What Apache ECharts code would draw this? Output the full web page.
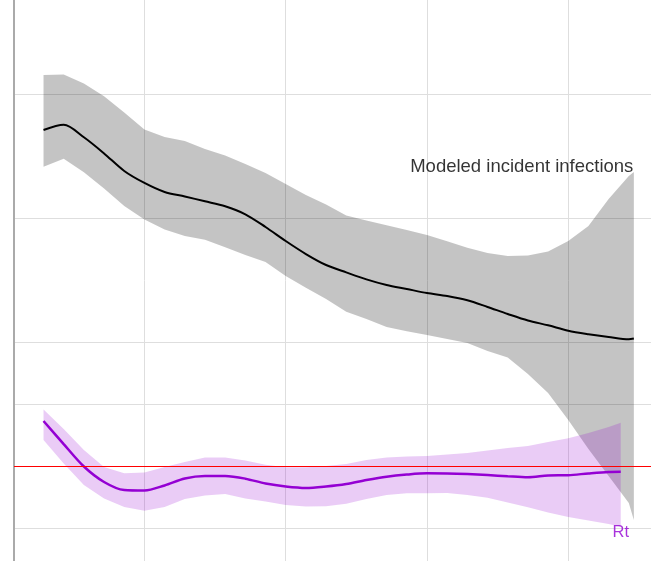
<!DOCTYPE html>
<html><head><meta charset="utf-8">
<script src="https://cdn.jsdelivr.net/npm/echarts@6/dist/echarts.min.js"></script>
<style>html,body{margin:0;padding:0;background:#fff;overflow:hidden}#c{width:651px;height:561px}</style>
</head><body><div id="c"></div>
<script>
// ---- data ----
const infDays   = [4,6,8,10,12,14,16,18,20,22,24,26,28,30,32,34,36,38,40,42,44,46,48,50,52,54,56,58,60,62,62.5];
const infMedian = [7419,7503,7302,7042,6758,6565,6419,6347,6269,6189,6060,5855,5629,5419,5242,5123,5010,4919,4855,4790,4742,4673,4565,4452,4347,4269,4182,4126,4081,4044,4057];
const infUpper  = [8306,8315,8169,7963,7702,7427,7306,7242,7113,7008,6871,6726,6548,6371,6218,6040,5960,5882,5806,5726,5624,5521,5435,5387,5394,5460,5629,5871,6306,6677,6742];
const infLower  = [6828,6955,6737,6474,6194,5976,5815,5710,5650,5527,5403,5290,5065,4876,4694,4489,4371,4242,4173,4113,4048,3984,3855,3750,3484,3177,2742,2274,1839,1403,1129];

const rtDays   = [4,6,8,10,12,14,16,18,20,22,24,26,28,30,32,34,36,38,40,42,44,46,48,50,52,54,56,58,60,61.2];
const rtMedian = [1.363,1.177,0.996,0.871,0.806,0.802,0.843,0.899,0.919,0.919,0.898,0.859,0.835,0.823,0.835,0.855,0.887,0.914,0.931,0.941,0.940,0.935,0.927,0.917,0.909,0.923,0.926,0.940,0.952,0.954];
const rtUpper  = [1.456,1.298,1.129,0.992,0.941,0.948,0.992,1.032,1.069,1.069,1.044,1.010,0.990,0.990,1.000,1.016,1.048,1.069,1.077,1.081,1.093,1.105,1.125,1.145,1.161,1.194,1.223,1.266,1.315,1.349];
const rtLower  = [1.210,1.020,0.847,0.738,0.669,0.640,0.669,0.734,0.762,0.774,0.738,0.714,0.685,0.673,0.676,0.695,0.734,0.766,0.780,0.780,0.782,0.766,0.744,0.706,0.667,0.625,0.589,0.560,0.532,0.510];

const RT_THRESHOLD = 1;
const INF_LABEL = 'Modeled incident infections';
const RT_LABEL = 'Rt';

// ---- axis extents ----
const X_MAX = 65.19, X_STEP = 14;
const INF_MIN = 0, INF_MAX = 9677.4, INF_STEP = 2000;
const RT_MIN = 0, RT_MAX = 4.8387, RT_STEP = 0.5;
const dayRange = infDays[infDays.length - 1] - infDays[0];
const panelStart = infDays[0] - 0.05 * dayRange;   // ggplot-style 5% expansion

const FONT = '"Liberation Sans", Arial, Helvetica, sans-serif';
const GRID_C = '#dedede', T = 'rgba(0,0,0,0)';

function pairs(days, vals) { return days.map((d, i) => [d, vals[i]]); }

function ribbon(days, lo, hi, yIdx, color) {
  return {
    type: 'custom', xAxisIndex: 0, yAxisIndex: yIdx, silent: true, clip: true, z: 2,
    data: days.map((d, i) => [d, lo[i], hi[i]]),
    encode: { x: 0, y: [1, 2] },
    renderItem: function (params, api) {
      if (params.dataIndex !== 0) return null;
      const pts = [];
      for (let i = 0; i < days.length; i++) pts.push(api.coord([days[i], hi[i]]));
      for (let i = days.length - 1; i >= 0; i--) pts.push(api.coord([days[i], lo[i]]));
      return { type: 'polygon', shape: { points: pts }, style: { fill: color } };
    }
  };
}

const chart = echarts.init(document.getElementById('c'), null, { renderer: 'canvas' });
chart.setOption({
  animation: false,
  backgroundColor: '#ffffff',
  grid: [
    // data panel (starts at the left axis line)
    { left: 14, right: -10, top: -10, bottom: -29, containLabel: false, outerBoundsMode: 'none' },
    // same x scale, used only for the vertical grid lines
    { left: 3, right: -10, top: -10, bottom: -29, containLabel: false, outerBoundsMode: 'none' }
  ],
  xAxis: [
    {
      gridIndex: 0, type: 'value', min: panelStart, max: X_MAX,
      axisLine: { show: false }, axisTick: { show: false }, axisLabel: { show: false },
      splitLine: { show: false }
    },
    {
      gridIndex: 1, type: 'value', min: 0, max: X_MAX, interval: X_STEP,
      axisLine: { show: false }, axisTick: { show: false }, axisLabel: { show: false },
      splitLine: { show: true, lineStyle: { color: [T, GRID_C, GRID_C, GRID_C, GRID_C, T], width: 1 } }
    }
  ],
  yAxis: [
    {
      gridIndex: 0, type: 'value', min: INF_MIN, max: INF_MAX, interval: INF_STEP, position: 'left',
      axisLine: { show: true, onZero: false, lineStyle: { color: '#aaaaaa', width: 2 } },
      axisTick: { show: false }, axisLabel: { show: false },
      splitLine: { show: true, lineStyle: { color: GRID_C, width: 1 } }
    },
    {
      gridIndex: 0, type: 'value', min: RT_MIN, max: RT_MAX, interval: RT_STEP, position: 'right',
      axisLine: { show: false }, axisTick: { show: false }, axisLabel: { show: false },
      splitLine: { show: true, lineStyle: { color: [T, GRID_C, T, GRID_C, T, T, T, T, T, T, T], width: 1 } }
    },
    {
      gridIndex: 1, type: 'value', min: 0, max: 1, show: false,
      axisLine: { show: false }, axisTick: { show: false }, axisLabel: { show: false }, splitLine: { show: false }
    }
  ],
  series: [
    ribbon(infDays, infLower, infUpper, 0, 'rgba(0,0,0,0.23)'),
    {
      type: 'line', xAxisIndex: 0, yAxisIndex: 0, data: pairs(infDays, infMedian), showSymbol: false, silent: true,
      smooth: 0.3, lineStyle: { color: '#000000', width: 2 }, z: 3
    },
    ribbon(rtDays, rtLower, rtUpper, 1, 'rgba(148,0,211,0.2)'),
    {
      type: 'line', xAxisIndex: 0, yAxisIndex: 1, data: pairs(rtDays, rtMedian), showSymbol: false, silent: true,
      smooth: 0.3, lineStyle: { color: '#9400d3', width: 2.5 }, z: 3,
      markLine: {
        silent: true, symbol: ['none', 'none'], label: { show: false },
        lineStyle: { color: '#ff0000', width: 1.2, type: 'solid' },
        data: [[{ coord: [panelStart, RT_THRESHOLD] }, { coord: [X_MAX, RT_THRESHOLD] }]]
      }
    },
    {
      type: 'scatter', xAxisIndex: 0, yAxisIndex: 0, silent: true, symbolSize: 1, itemStyle: { color: T }, z: 5,
      data: [[infDays[infDays.length - 1], infUpper[infUpper.length - 1]]],
      label: {
        show: true, formatter: INF_LABEL, position: 'left', distance: 0, align: 'right',
        verticalAlign: 'middle', offset: [0, -5], color: '#000000', fontSize: 18.5, fontFamily: FONT
      }
    },
    {
      type: 'scatter', xAxisIndex: 0, yAxisIndex: 1, silent: true, symbolSize: 1, itemStyle: { color: T }, z: 5,
      data: [[rtDays[rtDays.length - 1], rtLower[rtLower.length - 1]]],
      label: {
        show: true, formatter: RT_LABEL, position: 'bottom', distance: 0, align: 'center',
        verticalAlign: 'top', offset: [0, -3], color: '#9400d3', fontSize: 16.5, fontFamily: FONT
      }
    }
  ]
});
</script>
</body></html>
